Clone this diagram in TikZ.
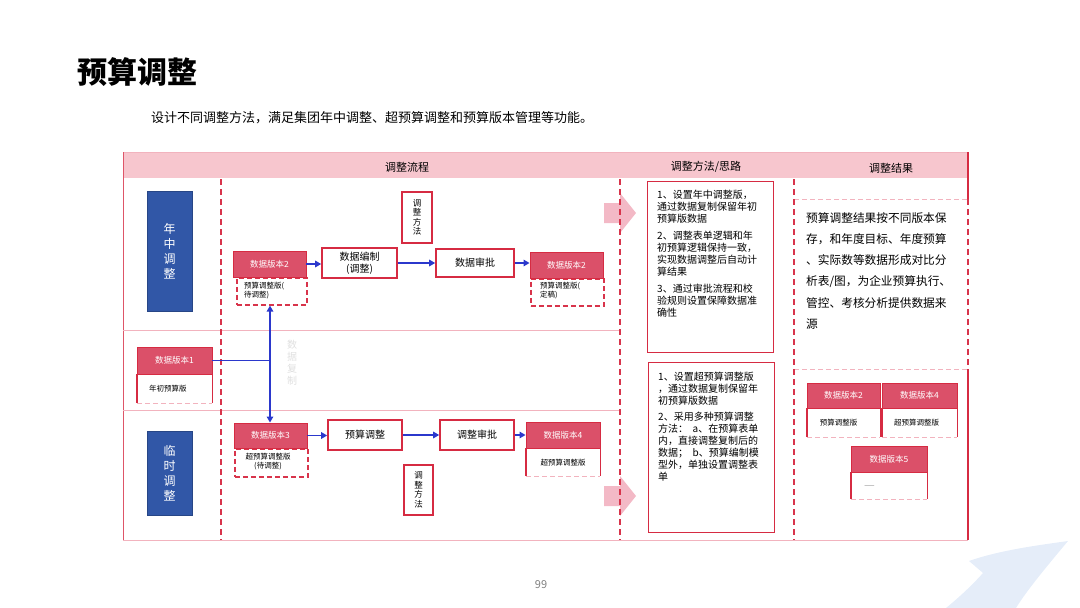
\documentclass[tikz,border=0pt]{standalone}
\usepackage{fontspec}
\setmainfont{Noto Sans CJK SC}
\usetikzlibrary{arrows.meta}
\definecolor{bandpink}{HTML}{F7C6CE}
\definecolor{boxred}{HTML}{D62B42}
\definecolor{hdrred}{HTML}{DB5069}
\definecolor{dashred}{HTML}{D8344B}
\definecolor{lpink}{HTML}{F2B3BE}
\definecolor{navy}{HTML}{3157A7}
\definecolor{flowblue}{HTML}{2B38CC}
\definecolor{arrowpink}{HTML}{F3B9C6}
\definecolor{swooshblue}{HTML}{E5EDF9}
\begin{document}
\begin{tikzpicture}[x=1pt,y=-1pt,
  hdrtext/.style={font=\fontsize{11}{13}\selectfont, inner sep=0pt},
  bluebox/.style={fill=navy, draw=navy!80!black, line width=0.6pt, text=white, align=center, font=\fontsize{12}{15}\selectfont, inner sep=0pt},
  verhdr/.style={fill=hdrred, draw=boxred, line width=0.9pt, text=white, font=\fontsize{8.5}{10}\selectfont, inner sep=0pt},
  verbody/.style={draw=dashred, line width=1.6pt, dash pattern=on 5pt off 3pt, inner sep=0pt, fill=white},
  plainbody/.style={inner sep=0pt},
  small/.style={font=\fontsize{7.5}{9}\selectfont, inner sep=0pt, align=left},
  procbox/.style={draw=boxred, line width=1.6pt, fill=white, align=center, font=\fontsize{10}{11.5}\selectfont, inner sep=0pt},
  methbox/.style={draw=boxred, line width=1.1pt, fill=white, align=center, font=\fontsize{8.5}{9.5}\selectfont, inner sep=0pt},
  bigbox/.style={draw=boxred, line width=1.1pt, inner sep=0pt},
  flowline/.style={flowblue, line width=1.4pt},
  flowarrow/.style={flowblue, line width=1.4pt, -{Triangle[length=6pt,width=6.5pt]}},
  reddash/.style={dashred, line width=1.8pt, dash pattern=on 6pt off 4pt},
  pinkdash/.style={lpink, line width=1pt, dash pattern=on 5pt off 3pt},
  side/.style={boxred, line width=1.3pt}
]
\useasboundingbox (0,0) rectangle (1080,608);

% swoosh
\fill[swooshblue] (969,561) .. controls (1000,550) and (1040,545) .. (1068,541)
  .. controls (1048,565) and (1027,590) .. (1016,608) -- (946,608)
  .. controls (962,595) and (975,582) .. (983,573) -- cycle;

% title and subtitle
\node[anchor=west, font=\fontsize{30}{34}\selectfont\bfseries, inner sep=0pt] (title) at (77,72) {预算调整};
\node[anchor=west, font=\fontsize{13}{15}\selectfont, inner sep=0pt] (sub) at (151,118) {设计不同调整方法，满足集团年中调整、超预算调整和预算版本管理等功能。};

% table frame
\fill[bandpink] (123,152) rectangle (968,178);
\draw[lpink, line width=0.9pt] (123,152) -- (968,152);
\draw[lpink, line width=0.9pt] (123,540) -- (968,540);
\draw[boxred!80, line width=0.9pt] (123,152) -- (123,540);
\draw[lpink, line width=0.8pt] (123,330) -- (620,330);
\draw[lpink, line width=0.8pt] (123,410) -- (620,410);
\draw[boxred, line width=1.1pt] (968,152) -- (968,199);
\draw[boxred, line width=1.1pt] (968,369) -- (968,540);
\draw[reddash, line width=1.4pt] (968,199) -- (968,369);
\draw[pinkdash] (794,199) -- (968,199);
\draw[pinkdash] (794,369) -- (968,369);

\node[hdrtext] (h1) at (407,167) {调整流程};
\node[hdrtext] (h2) at (706,167) {调整方法/思路};
\node[hdrtext] (h3) at (891,168) {调整结果};

% pink block arrows
\fill[arrowpink] (604,203) -- (620,203) -- (620,193) -- (636,213) -- (620,233) -- (620,223) -- (604,223) -- cycle;
\fill[arrowpink] (604,486) -- (620,486) -- (620,476) -- (636,496) -- (620,516) -- (620,506) -- (604,506) -- cycle;

% dashed column lines
\draw[reddash] (221,179) -- (221,540);
\draw[reddash] (620,179) -- (620,540);
\draw[reddash] (794,179) -- (794,540);

% blue row labels
\node[bluebox, minimum width=45, minimum height=120] (nz) at (169.5,251) {年\\中\\调\\整};
\node[bluebox, minimum width=45, minimum height=84] (ls) at (169.5,473) {临\\时\\调\\整};

% version 1
\node[plainbody, minimum width=75, minimum height=29, anchor=north west] (v1b) at (137,374) {};
\draw[side] (v1b.north west) -- (v1b.south west);
\draw[side] (v1b.north east) -- (v1b.south east);
\draw[pinkdash] (v1b.south west) -- (v1b.south east);
\node[verhdr, minimum width=75, minimum height=27] (v1a) at (174.5,360.5) {数据版本1};
\node[small, anchor=west] (t1) at (149,389) {年初预算版};

% version 2 (left)
\node[verbody, minimum width=70, minimum height=27, anchor=north west] (v2b) at (236,277) {};
\node[verhdr, minimum width=73, minimum height=26] (v2a) at (269.5,264) {数据版本2};
\node[small, anchor=north west] (t2) at (244,282) {预算调整版(\\待调整)};

% process row 1
\node[procbox, minimum width=75, minimum height=30] (bz) at (359.5,263) {数据编制\\(调整)};
\node[procbox, minimum width=78, minimum height=28] (sp) at (475,263) {数据审批};
\node[verbody, minimum width=73, minimum height=27, anchor=north west] (v2d) at (530,278) {};
\node[verhdr, minimum width=73, minimum height=26] (v2c) at (566.5,265) {数据版本2};
\node[small, anchor=north west] (t2d) at (540,282) {预算调整版(\\定稿)};
\node[methbox, minimum width=30, minimum height=51] (m1) at (417,217.5) {调\\整\\方\\法};

\draw[flowarrow] (v2a.east) -- (v2a.east -| bz.west);
\draw[flowarrow] (bz.east) -- (bz.east -| sp.west);
\draw[flowarrow] (sp.east) -- (sp.east -| v2c.west);

% version 3 (left bottom)
\node[verbody, minimum width=73, minimum height=28, anchor=north west] (v3b) at (234,448) {};
\node[verhdr, minimum width=73, minimum height=25] (v3a) at (270.5,435.5) {数据版本3};
\node[small, align=center] (t3) at (268,462) {超预算调整版\\(待调整)};

% process row 2
\node[procbox, minimum width=74, minimum height=30] (ys) at (365,435) {预算调整};
\node[procbox, minimum width=74, minimum height=30] (ts) at (477,435) {调整审批};
\node[plainbody, minimum width=74, minimum height=28, anchor=north west] (v4b) at (526,448) {};
\draw[side] (v4b.north west) -- (v4b.south west);
\draw[side] (v4b.north east) -- (v4b.south east);
\draw[pinkdash] (v4b.south west) -- (v4b.south east);
\node[verhdr, minimum width=74, minimum height=26] (v4a) at (563,435.5) {数据版本4};
\node[small] (t4) at (563,463) {超预算调整版};
\node[methbox, minimum width=29, minimum height=50] (m2) at (418.5,490) {调\\整\\方\\法};

\draw[flowarrow] (v3a.east) -- (v3a.east -| ys.west);
\draw[flowarrow] (ys.east) -- (ys.east -| ts.west);
\draw[flowarrow] (ts.east) -- (ts.east -| v4a.west);

% copy connector
\coordinate (jx) at (270,0);
\draw[flowline] (v1a.east) -- (v1a.east -| jx);
\draw[flowarrow] (v1a.east -| jx) -- (v2b.south -| jx);
\draw[flowarrow] (v1a.east -| jx) -- (v3a.north -| jx);
\node[align=center, text=gray!25, font=\fontsize{10}{12}\selectfont, inner sep=0pt] (copy) at (292,363) {数\\据\\复\\制};

% method boxes
\node[bigbox, minimum width=126, minimum height=171, anchor=north west] (mb1) at (647,181) {};
\node[anchor=north west, align=left, inner sep=0pt, font=\fontsize{10}{12}\selectfont] (mt1) at (657,190)
 {1、设置年中调整版，\\通过数据复制保留年初\\预算版数据\\[5pt]2、调整表单逻辑和年\\初预算逻辑保持一致，\\实现数据调整后自动计\\算结果\\[5pt]3、通过审批流程和校\\验规则设置保障数据准\\确性};
\node[bigbox, minimum width=126, minimum height=170, anchor=north west] (mb2) at (648,362) {};
\node[anchor=north west, align=left, inner sep=0pt, font=\fontsize{10}{12}\selectfont] (mt2) at (658,372)
 {1、设置超预算调整版\\，通过数据复制保留年\\初预算版数据\\[4pt]2、采用多种预算调整\\方法：\ \ a、在预算表单\\内，直接调整复制后的\\数据；\ \ b、预算编制模\\型外，单独设置调整表\\单};

% result text
\node[anchor=north west, align=left, inner sep=0pt, font=\fontsize{11.7}{21.3}\selectfont] (rt) at (806,212)
 {预算调整结果按不同版本保\\存，和年度目标、年度预算\\、实际数等数据形成对比分\\析表/图，为企业预算执行、\\管控、考核分析提供数据来\\源};

% result versions
\node[plainbody, minimum width=73, minimum height=29, anchor=north west] (r2b) at (807,408) {};
\draw[side] (r2b.north west) -- (r2b.south west);
\draw[side] (r2b.north east) -- (r2b.south east);
\draw[pinkdash] (r2b.south west) -- (r2b.south east);
\node[verhdr, minimum width=73, minimum height=25] (r2a) at (843.5,395.5) {数据版本2};
\node[small] (rt2) at (838.5,423) {预算调整版};

\node[plainbody, minimum width=75, minimum height=29, anchor=north west] (r4b) at (882,408) {};
\draw[side] (r4b.north west) -- (r4b.south west);
\draw[side] (r4b.north east) -- (r4b.south east);
\draw[pinkdash] (r4b.south west) -- (r4b.south east);
\node[verhdr, minimum width=75, minimum height=25] (r4a) at (919.5,395.5) {数据版本4};
\node[small] (rt4) at (916.5,423) {超预算调整版};

\node[plainbody, minimum width=76, minimum height=27, anchor=north west] (r5b) at (851,472) {};
\draw[side] (r5b.north west) -- (r5b.south west);
\draw[side] (r5b.north east) -- (r5b.south east);
\draw[pinkdash] (r5b.south west) -- (r5b.south east);
\node[verhdr, minimum width=76, minimum height=26] (r5a) at (889,459) {数据版本5};
\node[text=gray!60, font=\fontsize{12}{13}\selectfont, inner sep=0pt] (rt5) at (869.5,488) {—};

% page number
\node[text=gray, font=\fontsize{11}{13}\selectfont, inner sep=0pt] (pg) at (541,585) {99};
\end{tikzpicture}
\end{document}
